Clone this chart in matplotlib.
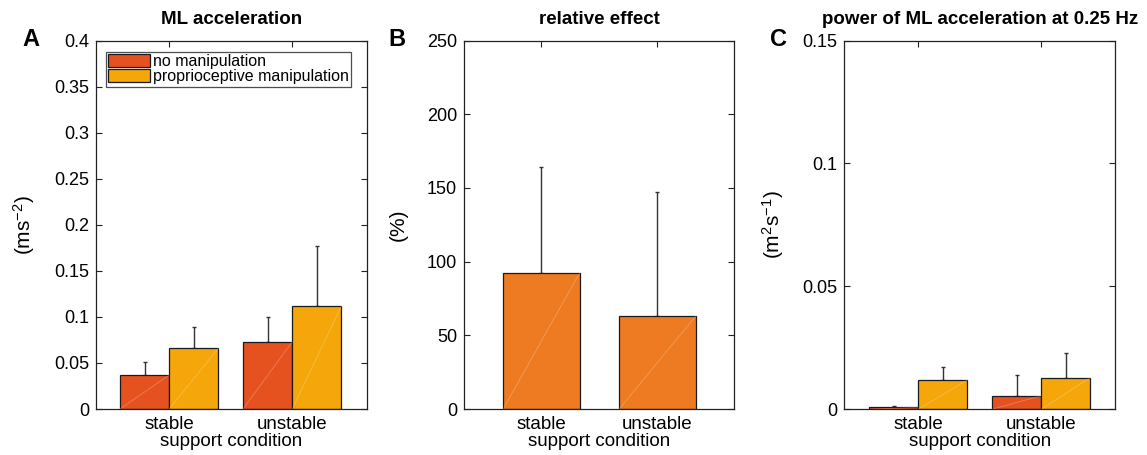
import numpy as np
import matplotlib
matplotlib.use("Agg")
import matplotlib.pyplot as plt

plt.rcParams['font.family'] = ['Liberation Sans', 'DejaVu Sans']
plt.rcParams['mathtext.default'] = 'regular'

# data
conditions = ["stable", "unstable"]
series_names = ["no manipulation", "proprioceptive manipulation"]

acc_mean = {"no manipulation": [0.037, 0.073],
            "proprioceptive manipulation": [0.066, 0.112]}
acc_err = {"no manipulation": [0.014, 0.027],
           "proprioceptive manipulation": [0.023, 0.065]}

rel_mean = [92.5, 63.0]
rel_err = [71.5, 84.0]

pow_mean = {"no manipulation": [0.0008, 0.0055],
            "proprioceptive manipulation": [0.0119, 0.0129]}
pow_err = {"no manipulation": [0.0005, 0.0086],
           "proprioceptive manipulation": [0.0052, 0.0099]}

c_no = "#E55220"
c_prop = "#F5A60B"
c_rel = "#EE7B22"
edge = "#1a1a1a"
ecol = "#333333"

fig = plt.figure(figsize=(11.47, 4.55), dpi=100)
W, H = 1147, 455


def add_ax(x0, x1, y0, y1):
    return fig.add_axes([x0 / W, 1 - y1 / H, (x1 - x0) / W, (y1 - y0) / H])


def diag(ax, bars):
    # faint diagonal seen inside the bars of the original
    for b in bars:
        x, y = b.get_x(), b.get_y()
        w, h = b.get_width(), b.get_height()
        ax.plot([x, x + w], [y, y + h], color="white", lw=0.6, alpha=0.25, zorder=3)


def style(ax, ylim, yticks, yticklabels):
    ax.set_ylim(*ylim)
    ax.set_yticks(yticks)
    ax.set_yticklabels(yticklabels)
    ax.set_xticks([1, 2])
    ax.set_xticklabels(conditions)
    ax.tick_params(direction="in", top=True, right=True, length=4, width=0.8,
                   labelsize=13, pad=5, colors="#222222", labelcolor="black")
    ax.tick_params(axis="x", labelsize=13.5, pad=5)
    for s in ax.spines.values():
        s.set_linewidth(0.9)
        s.set_color("#222222")
    ax.set_xlabel("support condition", fontsize=13.5, labelpad=0)


def grouped(ax, means, errs):
    x = np.arange(1, len(conditions) + 1)
    w = 0.4
    offs = [-w / 2, w / 2]
    cols = [c_no, c_prop]
    handles = []
    for name, off, col in zip(series_names, offs, cols):
        bars = ax.bar(x + off, means[name], width=w, color=col, edgecolor=edge,
                      linewidth=0.9, zorder=2, label=name)
        ax.errorbar(x + off, means[name], yerr=[np.zeros(len(x)), errs[name]],
                    fmt="none", ecolor=ecol, elinewidth=1.0, capsize=1.5,
                    capthick=1.0, zorder=1)
        diag(ax, bars)
        handles.append(bars)
    return handles


# panel A
axA = add_ax(96, 366.7, 40.5, 409)
hA = grouped(axA, acc_mean, acc_err)
axA.set_xlim(0.405, 2.605)
style(axA, (0, 0.4), np.arange(0, 0.41, 0.05),
      ["0", "0.05", "0.1", "0.15", "0.2", "0.25", "0.3", "0.35", "0.4"])
axA.set_ylabel("(ms$^{-2}$)", fontsize=15, labelpad=12)
axA.set_title("ML acceleration", fontsize=13.5, fontweight="bold", pad=12)
leg = axA.legend(handles=hA, loc="upper left", bbox_to_anchor=(0.037, 0.97),
                 fontsize=11.5, frameon=True, fancybox=False, borderpad=0.15,
                 handlelength=2.6, handleheight=0.85, handletextpad=0.2,
                 labelspacing=0.02, borderaxespad=0)
leg.get_frame().set_edgecolor("#222222")
leg.get_frame().set_linewidth(0.9)

# panel B
axB = add_ax(464, 734, 40.5, 409)
xb = np.arange(1, len(conditions) + 1)
barsB = axB.bar(xb, rel_mean, width=0.66, color=c_rel, edgecolor=edge,
                linewidth=0.9, zorder=2)
axB.errorbar(xb, rel_mean, yerr=[np.zeros(len(xb)), rel_err], fmt="none",
             ecolor=ecol, elinewidth=1.0, capsize=1.5, capthick=1.0, zorder=1)
diag(axB, barsB)
axB.set_xlim(0.332, 2.66)
style(axB, (0, 250), np.arange(0, 251, 50), ["0", "50", "100", "150", "200", "250"])
axB.set_ylabel("(%)", fontsize=15, labelpad=14)
axB.set_title("relative effect", fontsize=13.5, fontweight="bold", pad=12)

# panel C
axC = add_ax(844.3, 1115, 40.5, 409.3)
grouped(axC, pow_mean, pow_err)
axC.set_xlim(0.4, 2.6)
style(axC, (0, 0.15), [0, 0.05, 0.1, 0.15], ["0", "0.05", "0.1", "0.15"])
axC.set_ylabel("(m$^{2}$s$^{-1}$)", fontsize=15, labelpad=12)
axC.set_title("power of ML acceleration at 0.25 Hz", fontsize=13.5,
              fontweight="bold", pad=12)

# panel letters
for ax, letter, xpx in [(axA, "A", 22), (axB, "B", 388), (axC, "C", 770)]:
    fig.text(xpx / W, 1 - 40 / H, letter, fontsize=17, fontweight="bold",
             ha="left", va="center")

fig.savefig("out.png", dpi=100)
